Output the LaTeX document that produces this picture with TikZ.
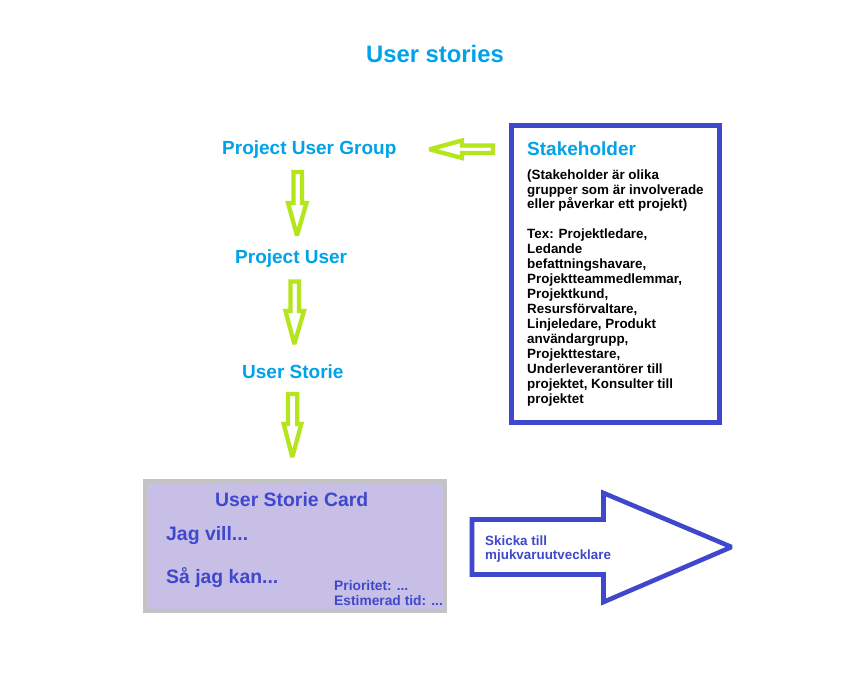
\documentclass[tikz,border=0pt]{standalone}
\usepackage{fontspec}
\setmainfont{Liberation Sans}
\definecolor{cyanblue}{HTML}{00A2E8}
\definecolor{limegreen}{HTML}{B5E61D}
\definecolor{indigo}{HTML}{3F48CC}
\definecolor{lavender}{HTML}{C8BFE7}
\definecolor{cardgray}{HTML}{C3C3C3}
\tikzset{
  txt/.style={anchor=base west, inner sep=0pt, font=\bfseries},
  heading/.style={txt, text=cyanblue, font=\bfseries\fontsize{19}{22}\selectfont},
  body/.style={txt, text=black, font=\bfseries\fontsize{13.4}{15}\selectfont},
  cardbig/.style={txt, text=indigo, font=\bfseries\fontsize{19.4}{22}\selectfont},
  cardsmall/.style={txt, text=indigo, font=\bfseries\fontsize{13.8}{15}\selectfont},
  greenarrow/.style={draw=limegreen, line width=4.3pt, line join=miter, miter limit=2},
  bluearrow/.style={draw=indigo, line width=4.6pt, line join=miter, miter limit=2, fill=white},
}
\begin{document}
\begin{tikzpicture}[x=1pt,y=-1pt]
\useasboundingbox[fill=white] (0,0) rectangle (848,693);

% title
\node[txt, text=cyanblue, font=\bfseries\fontsize{23.8}{26}\selectfont] (title) at (366,63) {User stories};

% left column
\node[heading] (pug) at (222,154) {Project User Group};
\node[heading] (pu) at (235,263) {Project User};
\node[heading] (us) at (242,378) {User Storie};

% green arrows
\draw[greenarrow] (493,145.5) -- (462,145.5) -- (462,140.5) -- (429.5,149.3) -- (462,158) -- (462,153) -- (493,153) -- cycle;
\draw[greenarrow] (293.5,172) -- (302,172) -- (302,203) -- (306.5,203) -- (297,235.5) -- (288,203) -- (293.5,203) -- cycle;
\draw[greenarrow] (290.5,281.5) -- (299,281.5) -- (299,311) -- (304,311) -- (294.3,344) -- (285.5,311) -- (290.5,311) -- cycle;
\draw[greenarrow] (288,394) -- (297.3,394) -- (297.3,424) -- (301.3,424) -- (292.3,457) -- (283.7,424) -- (288,424) -- cycle;

% stakeholder box
\draw[draw=indigo, line width=4.8pt] (511.5,125.5) rectangle (719.5,422.5);
\node[heading] (sh) at (527,155) {Stakeholder};
\node[body] (s1) at (527,179.3) {(Stakeholder är olika};
\node[body] (s2) at (527,194.1) {grupper som är involverade};
\node[body] (s3) at (527,208.9) {eller påverkar ett projekt)};
\node[body] (s4) at (527,238) {Tex: Projektledare,};
\node[body] (s5) at (527,253) {Ledande};
\node[body] (s6) at (527,268) {befattningshavare,};
\node[body] (s7) at (527,283) {Projektteammedlemmar,};
\node[body] (s8) at (527,298) {Projektkund,};
\node[body] (s9) at (527,313) {Resursförvaltare,};
\node[body] (s10) at (527,328) {Linjeledare, Produkt};
\node[body] (s11) at (527,343) {användargrupp,};
\node[body] (s12) at (527,358) {Projekttestare,};
\node[body] (s13) at (527,373) {Underleverantörer till};
\node[body] (s14) at (527,388) {projektet, Konsulter till};
\node[body] (s15) at (527,403) {projektet};

% card
\draw[draw=cardgray, fill=lavender, line width=4pt] (145,481) rectangle (445,611);
\node[cardbig] (ct) at (215,506) {User Storie Card};
\node[cardbig] (c1) at (166,540) {Jag vill...};
\node[cardbig] (c2) at (166,583) {Så jag kan...};
\node[cardsmall] (c3) at (334,590) {Prioritet: ...};
\node[cardsmall] (c4) at (334,605) {Estimerad tid: ...};

% big blue arrow
\draw[bluearrow] (472,519.5) -- (603.5,519.5) -- (603.5,493) -- (731.5,547) -- (603.5,602) -- (603.5,574.5) -- (472,574.5) -- cycle;
\node[txt, text=indigo, font=\bfseries\fontsize{13.4}{15}\selectfont] (sk1) at (485,545) {Skicka till};
\node[txt, text=indigo, font=\bfseries\fontsize{13.4}{15}\selectfont] (sk2) at (485,559) {mjukvaruutvecklare};
\end{tikzpicture}
\end{document}
